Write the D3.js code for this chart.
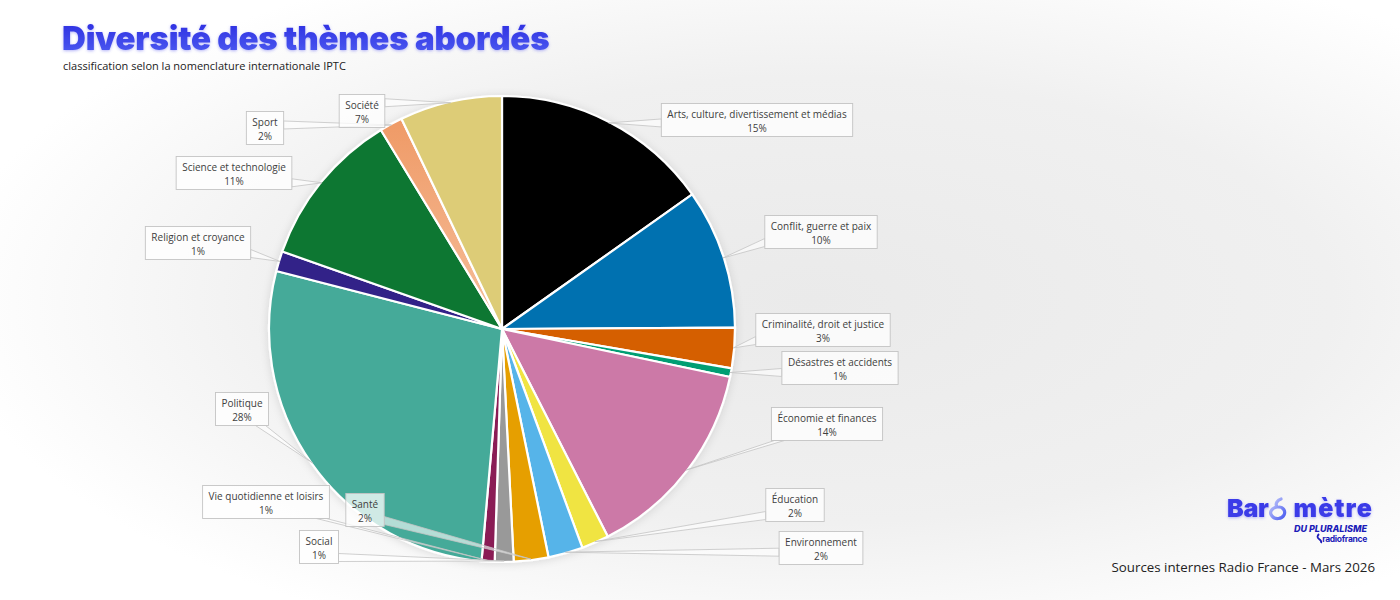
<!DOCTYPE html>
<html><head><meta charset="utf-8">
<script src="https://cdn.jsdelivr.net/npm/d3@7"></script>
<style>html,body{margin:0;padding:0;background:#fff;}svg{display:block;}</style>
</head><body>
<svg id="chart" width="1400" height="600"></svg>
<script>
// ---- data ----
const categories = ["Arts, culture, divertissement et médias","Conflit, guerre et paix","Criminalité, droit et justice","Désastres et accidents","Économie et finances","Éducation","Environnement","Santé","Social","Vie quotidienne et loisirs","Politique","Religion et croyance","Science et technologie","Sport","Société"];
const values = [15.2,9.7,2.8,0.6,14.2,1.9,2.4,2.4,1.3,0.9,27.6,1.4,10.9,1.6,7.1];
const colors = ["#000000","#0071b0","#d55e00","#009e73","#cc79a7","#f0e442","#56b4e9","#e69f00","#999999","#8a1f55","#44aa99","#332288","#117733","url(#sportGrad)","#ddcc77"];
// ---- layout of the callouts (centre of box, side the pointer leaves from) ----
const labelLayout = {
  "Arts, culture, divertissement et médias":[757,120,"l"],
  "Conflit, guerre et paix":[821,232,"l"],
  "Criminalité, droit et justice":[823,330,"l"],
  "Désastres et accidents":[840,368,"l"],
  "Économie et finances":[827,424,"b"],
  "Éducation":[795,505,"l"],
  "Environnement":[821,548,"l"],
  "Santé":[365,510,"r"],
  "Social":[319,547,"r"],
  "Vie quotidienne et loisirs":[266,502,"b"],
  "Politique":[242,409,"b"],
  "Religion et croyance":[198,243,"r"],
  "Science et technologie":[234,173,"r"],
  "Sport":[265,128,"r"],
  "Société":[362,111,"r"]
};

const svg = d3.select("#chart");
const defs = svg.append("defs");
const bg = defs.append("radialGradient").attr("id","bgGrad").attr("cx","58%").attr("cy","50%").attr("r","62%");
bg.append("stop").attr("offset","0%").attr("stop-color","#eaeaea");
bg.append("stop").attr("offset","60%").attr("stop-color","#f0f0f0");
bg.append("stop").attr("offset","100%").attr("stop-color","#ffffff");
const sg = defs.append("linearGradient").attr("id","sportGrad").attr("x1","0").attr("y1","0").attr("x2","0").attr("y2","1");
sg.append("stop").attr("offset","0%").attr("stop-color","#ef9a66");
sg.append("stop").attr("offset","100%").attr("stop-color","#f6bf9c");
const tg = defs.append("linearGradient").attr("id","titleGrad").attr("x1","0").attr("y1","0").attr("x2","0").attr("y2","1");
tg.append("stop").attr("offset","0%").attr("stop-color","#2a2ae0");
tg.append("stop").attr("offset","100%").attr("stop-color","#4f5ff2");
const sh = defs.append("filter").attr("id","pieShadow").attr("x","-20%").attr("y","-20%").attr("width","140%").attr("height","140%");
sh.append("feDropShadow").attr("dx",0).attr("dy",1).attr("stdDeviation",4).attr("flood-color","#000").attr("flood-opacity",0.12);
const glow = defs.append("filter").attr("id","glow").attr("x","-10%").attr("y","-30%").attr("width","120%").attr("height","160%");
glow.append("feDropShadow").attr("dx",0).attr("dy",1).attr("stdDeviation",1.5).attr("flood-color","#5a5af0").attr("flood-opacity",0.45);
const ig = defs.append("linearGradient").attr("id","iconGrad").attr("x1","0").attr("y1","0").attr("x2","1").attr("y2","1");
ig.append("stop").attr("offset","0%").attr("stop-color","#c9cffb");
ig.append("stop").attr("offset","100%").attr("stop-color","#4b5cf0");

svg.append("rect").attr("width",1400).attr("height",600).attr("fill","url(#bgGrad)");

// ---- title ----
svg.append("text").attr("x",62).attr("y",50).attr("font-family","Inter, Roboto, sans-serif").attr("font-weight",900)
  .attr("font-size",33).attr("letter-spacing",-0.15).attr("fill","url(#titleGrad)").attr("filter","url(#glow)")
  .text("Diversité des thèmes abordés");
svg.append("text").attr("x",63).attr("y",70).attr("font-family","'Open Sans', sans-serif").attr("font-size",11)
  .attr("fill","#222").text("classification selon la nomenclature internationale IPTC");

// ---- pie ----
const cx = 502, cy = 329, R = 233;
const data = categories.map((c,i)=>({name:c, value:values[i], color:colors[i]}));
const total = d3.sum(values);
const pie = d3.pie().value(d=>d.value).sort(null).startAngle(0).endAngle(2*Math.PI);
const arcs = pie(data);
const arc = d3.arc().innerRadius(0).outerRadius(R);
const g = svg.append("g").attr("transform",`translate(${cx},${cy})`);
g.append("g").attr("filter","url(#pieShadow)").selectAll("path").data(arcs).join("path")
  .attr("d",arc).attr("fill",d=>d.data.color).attr("stroke","#fff").attr("stroke-width",2.2).attr("stroke-linejoin","round");

// ---- callouts ----
const lg = svg.append("g").attr("font-family","'Open Sans', sans-serif").attr("font-size",10).attr("fill","#404040");
const boxes = [];
arcs.forEach(a=>{
  const lay = labelLayout[a.data.name];
  const pct = Math.round(a.data.value/total*100) + "%";
  const t1 = lg.append("text").attr("text-anchor","middle").text(a.data.name);
  const w = Math.max(t1.node().getComputedTextLength(), 20) + 12;
  t1.remove();
  boxes.push({a, lay, pct, w});
});
const leaderG = lg.append("g");
const boxG = lg.append("g");
boxes.forEach(({a,lay,pct,w})=>{
  const [bx,by,side] = lay;
  const h = 33;
  const x0 = bx - w/2, x1 = bx + w/2, y0 = by - h/2, y1 = by + h/2;
  const mid = (a.startAngle + a.endAngle)/2;
  const ax = cx + (R-1)*Math.sin(mid), ay = cy - (R-1)*Math.cos(mid);
  const clamp = (v,lo,hi)=>Math.max(lo,Math.min(hi,v));
  let p1, p2;
  if (side==="l"||side==="r") {
    const sx = side==="l" ? x0 : x1;
    const yy = clamp(ay, y0+6, y1-6);
    p1=[sx,yy-4]; p2=[sx,yy+4];
  } else {
    const sy = side==="t" ? y0 : y1;
    const xx = clamp(ax, x0+8, x1-8);
    p1=[xx-5,sy]; p2=[xx+5,sy];
  }
  leaderG.append("path").attr("d",`M${p1[0]},${p1[1]}L${ax},${ay}L${p2[0]},${p2[1]}Z`)
    .attr("fill","#ffffff").attr("fill-opacity",0.6).attr("stroke","#c4c4c4").attr("stroke-width",0.8);
  const bgp = boxG.append("g");
  bgp.append("rect").attr("x",x0).attr("y",y0).attr("width",w).attr("height",h)
    .attr("fill","#ffffff").attr("fill-opacity",0.75).attr("stroke","#c4c4c4").attr("stroke-width",0.9);
  bgp.append("text").attr("x",bx).attr("y",y0+14.5).attr("text-anchor","middle").text(a.data.name);
  bgp.append("text").attr("x",bx).attr("y",y0+28.5).attr("text-anchor","middle").text(pct);
});

// ---- logo ----
const logo = svg.append("g").attr("font-family","Inter, Roboto, sans-serif").attr("fill","#3b3be8");
logo.append("text").attr("x",1227).attr("y",517).attr("font-size",25).attr("font-weight",900).attr("letter-spacing",-0.3)
  .attr("filter","url(#glow)").text("Bar");
logo.append("text").attr("x",1373).attr("y",517).attr("text-anchor","end").attr("font-size",25).attr("font-weight",900).attr("letter-spacing",1.1)
  .attr("filter","url(#glow)").text("mètre");
logo.append("path").attr("d","M1281,499 C1277,500 1275,504 1277,507 C1271,508 1269,513 1272,516 C1275,520 1282,519 1284,515 C1286,511 1283,507 1279,507")
  .attr("fill","none").attr("stroke","url(#iconGrad)").attr("stroke-width",3.2).attr("stroke-linecap","round");
logo.append("text").attr("x",1367).attr("y",532).attr("text-anchor","end").attr("font-size",9).attr("font-weight",800)
  .attr("font-style","italic").attr("fill","#1c1cb8").text("DU PLURALISME");
logo.append("path").attr("d","M1319,534 q-3,3 0,5 q3,2 2,4").attr("fill","none").attr("stroke","#1c1cb8").attr("stroke-width",1.8);
logo.append("text").attr("x",1367).attr("y",542).attr("text-anchor","end").attr("font-size",8.5).attr("font-weight",700)
  .attr("letter-spacing",-0.3).attr("fill","#1c1cb8").text("radiofrance");

// ---- source ----
svg.append("text").attr("x",1375).attr("y",572).attr("text-anchor","end").attr("font-family","'Open Sans', sans-serif")
  .attr("font-size",13.3).attr("fill","#222").text("Sources internes Radio France - Mars 2026");
</script>
</body></html>
